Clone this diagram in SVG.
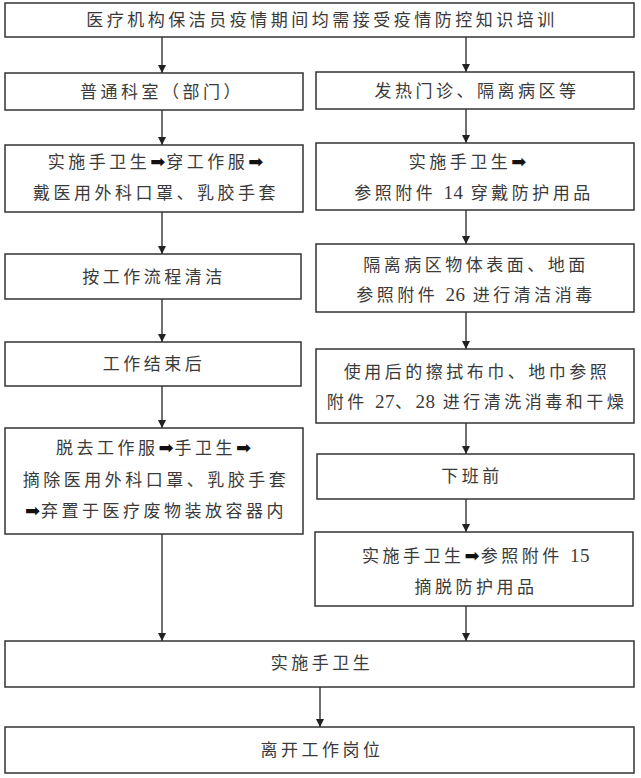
<svg xmlns="http://www.w3.org/2000/svg" width="641" height="778" viewBox="0 0 641 778">
<style>
.box{fill:#fff;stroke:#333;stroke-width:1.5}
.t{font-family:"Noto Sans CJK SC","Liberation Sans",sans-serif;font-size:17px;fill:#3a3a3a;text-anchor:middle;letter-spacing:3.5px}
.n{font-family:"Liberation Serif",serif;font-size:19px;letter-spacing:0.5px}
.a{font-family:"DejaVu Sans",sans-serif;font-size:18px;fill:#111;letter-spacing:1px}
.c{stroke:#222;stroke-width:1.3;fill:none;marker-end:url(#ah)}
</style>
<defs>
<marker id="ah" viewBox="0 0 10 10" refX="10" refY="5" markerWidth="8" markerHeight="8" markerUnits="userSpaceOnUse" orient="auto">
<path d="M0,0 L10,5 L0,10 Z" fill="#222"/>
</marker>
</defs>
<rect width="641" height="778" fill="#fff"/>
<g id="connectors">
<line class="c" x1="162" y1="37" x2="162" y2="73"/>
<line class="c" x1="466" y1="37" x2="466" y2="72"/>
<line class="c" x1="162" y1="110" x2="162" y2="145"/>
<line class="c" x1="162" y1="212" x2="162" y2="254"/>
<line class="c" x1="162" y1="299" x2="162" y2="342"/>
<line class="c" x1="162" y1="386" x2="162" y2="428"/>
<line class="c" x1="162" y1="534" x2="162" y2="641"/>
<line class="c" x1="466" y1="109" x2="466" y2="143"/>
<line class="c" x1="466" y1="210" x2="466" y2="244"/>
<line class="c" x1="466" y1="312" x2="466" y2="349"/>
<line class="c" x1="466" y1="423" x2="466" y2="454"/>
<line class="c" x1="466" y1="499" x2="466" y2="532"/>
<line class="c" x1="466" y1="606" x2="466" y2="641"/>
<line class="c" x1="320" y1="687" x2="320" y2="727"/>
</g>
<g id="n_top">
<rect class="box" x="5" y="3" width="629" height="34"/>
<text class="t" x="322" y="26">医疗机构保洁员疫情期间均需接受疫情防控知识培训</text>
</g>
<g id="n_general">
<rect class="box" x="5" y="73" width="298" height="37"/>
<text class="t" x="162" y="98">普通科室（部门）</text>
</g>
<g id="n_fever">
<rect class="box" x="316" y="72" width="318" height="37"/>
<text class="t" x="477" y="97">发热门诊、隔离病区等</text>
</g>
<g id="n_l1">
<rect class="box" x="5" y="145" width="298" height="67"/>
<text class="t" x="156" y="168">实施手卫生<tspan class="a">➡</tspan>穿工作服<tspan class="a">➡</tspan></text>
<text class="t" x="156" y="199">戴医用外科口罩、乳胶手套</text>
</g>
<g id="n_r1">
<rect class="box" x="316" y="143" width="318" height="67"/>
<text class="t" x="468" y="168">实施手卫生<tspan class="a">➡</tspan></text>
<text class="t" x="474" y="199">参照附件 <tspan class="n">14</tspan> 穿戴防护用品</text>
</g>
<g id="n_l2">
<rect class="box" x="5" y="254" width="296" height="45"/>
<text class="t" x="154" y="283">按工作流程清洁</text>
</g>
<g id="n_r2">
<rect class="box" x="316" y="244" width="318" height="68"/>
<text class="t" x="476" y="271">隔离病区物体表面、地面</text>
<text class="t" x="476" y="301">参照附件 <tspan class="n">26</tspan> 进行清洁消毒</text>
</g>
<g id="n_l3">
<rect class="box" x="5" y="342" width="296" height="44"/>
<text class="t" x="154" y="370">工作结束后</text>
</g>
<g id="n_r3">
<rect class="box" x="316" y="349" width="318" height="74"/>
<text class="t" x="477" y="378">使用后的擦拭布巾、地巾参照</text>
<text class="t" x="477" y="408">附件 <tspan class="n">27</tspan>、<tspan class="n">28</tspan> 进行清洗消毒和干燥</text>
</g>
<g id="n_l4">
<rect class="box" x="5" y="428" width="298" height="106"/>
<text class="t" x="154" y="454">脱去工作服<tspan class="a">➡</tspan>手卫生<tspan class="a">➡</tspan></text>
<text class="t" x="156" y="486">摘除医用外科口罩、乳胶手套</text>
<text class="t" x="156" y="517"><tspan class="a">➡</tspan>弃置于医疗废物装放容器内</text>
</g>
<g id="n_r4">
<rect class="box" x="317" y="454" width="317" height="45"/>
<text class="t" x="472" y="482">下班前</text>
</g>
<g id="n_r5">
<rect class="box" x="315" y="532" width="318" height="74"/>
<text class="t" x="476" y="562">实施手卫生<tspan class="a">➡</tspan>参照附件 <tspan class="n">15</tspan></text>
<text class="t" x="476" y="593">摘脱防护用品</text>
</g>
<g id="n_hand">
<rect class="box" x="5" y="641" width="629" height="46"/>
<text class="t" x="322" y="669">实施手卫生</text>
</g>
<g id="n_leave">
<rect class="box" x="5" y="727" width="629" height="46"/>
<text class="t" x="322" y="756">离开工作岗位</text>
</g>
</svg>
